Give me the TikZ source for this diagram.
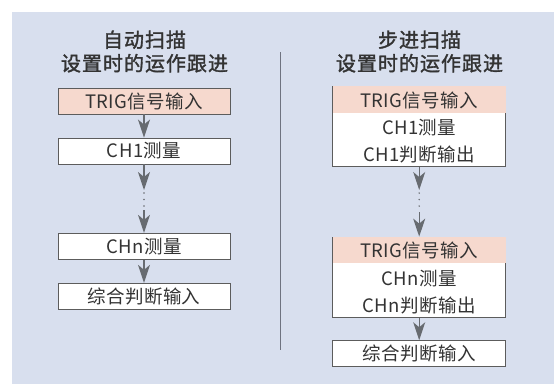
\documentclass[tikz,border=0pt]{standalone}
\usepackage{fontspec}
\setmainfont{Noto Sans CJK SC}
\newfontfamily\boxfont[LetterSpace=2]{Noto Sans CJK SC}
\newfontfamily\titlefont[LetterSpace=5,FakeBold=1.6]{Noto Sans CJK SC}
\usetikzlibrary{arrows.meta}
\definecolor{panel}{HTML}{D8DFEE}
\definecolor{pinkrow}{HTML}{F6D9CE}
\definecolor{border}{HTML}{5C5C5C}
\definecolor{arrowc}{HTML}{676B70}
\definecolor{txt}{HTML}{333333}
\definecolor{divider}{HTML}{6F7380}
\tikzset{
  boxtxt/.style={font=\boxfont\fontsize{18.5}{21}\selectfont, text=txt, inner sep=0pt},
  stepbox/.style={draw=border, line width=0.9pt, fill=white, minimum width=172pt, minimum height=26pt, inner sep=0pt, boxtxt},
  trigbox/.style={stepbox, fill=pinkrow},
  bigbox/.style={draw=border, line width=0.9pt, fill=white, minimum width=173pt, minimum height=80.5pt, inner sep=0pt},
  titletxt/.style={font=\titlefont\fontsize{20}{23.5}\selectfont, text=txt, align=center, inner sep=0pt},
  flow/.style={draw=arrowc, line width=1.3pt, -{Stealth[length=18pt, width=12pt, inset=5pt]}},
  dots/.style={draw=arrowc, line width=1.6pt, line cap=round, dash pattern=on 0pt off 6.5pt}
}
\begin{document}
\begin{tikzpicture}[x=1pt, y=-1pt]
\useasboundingbox (0,0) rectangle (554,384);
\fill[white] (0,0) rectangle (554,384);
\fill[panel] (12,12) rectangle (554,384);
% divider
\draw[divider, line width=1.3pt] (280.3,52) -- (280.3,350);
% titles
\node[titletxt] (tl) at (144.5,51.5) {自动扫描\\设置时的运作跟进};
\node[titletxt] (tr) at (419.5,51.5) {步进扫描\\设置时的运作跟进};
% left column
\node[trigbox] (l1) at (144,101) {TRIG信号输入};
\node[stepbox] (l2) at (144,151) {CH1测量};
\node[stepbox] (l3) at (144,246.3) {CHn测量};
\node[stepbox] (l4) at (144,296.3) {综合判断输入};
\coordinate (la) at (144,190);
\coordinate (lb) at (144,210);
\draw[flow] (l1) -- (l2);
\draw[flow] (l2) -- (la);
\draw[dots] ([yshift=-3pt]la) -- ([yshift=1pt]lb);
\draw[flow] (lb) -- (l3);
\draw[flow] (l3) -- (l4);
% right column
\node[bigbox] (r1) at (419.2,126.5) {};
\fill[pinkrow] ([xshift=0.45pt,yshift=-0.45pt]r1.north west) rectangle ([xshift=-0.45pt,yshift=-27pt]r1.north east);
\node[boxtxt] (r1a) at (419.2,100) {TRIG信号输入};
\node[boxtxt] (r1b) at (419.2,128) {CH1测量};
\node[boxtxt] (r1c) at (419.2,154) {CH1判断输出};
\node[bigbox] (r2) at (419.2,277.3) {};
\fill[pinkrow] ([xshift=0.45pt,yshift=-0.45pt]r2.north west) rectangle ([xshift=-0.45pt,yshift=-26pt]r2.north east);
\node[boxtxt] (r2a) at (419.2,250.5) {TRIG信号输入};
\node[boxtxt] (r2b) at (419.2,278.3) {CHn测量};
\node[boxtxt] (r2c) at (419.2,305) {CHn判断输出};
\node[stepbox, minimum width=173pt] (r3) at (419.2,353.7) {综合判断输入};
\coordinate (ra) at (419.2,190);
\coordinate (rb) at (419.2,212);
\draw[flow] (r1) -- (ra);
\draw[dots] ([yshift=-3pt]ra) -- ([yshift=1pt]rb);
\draw[flow] (rb) -- (r2);
\draw[flow] (r2) -- (r3);
\end{tikzpicture}
\end{document}
